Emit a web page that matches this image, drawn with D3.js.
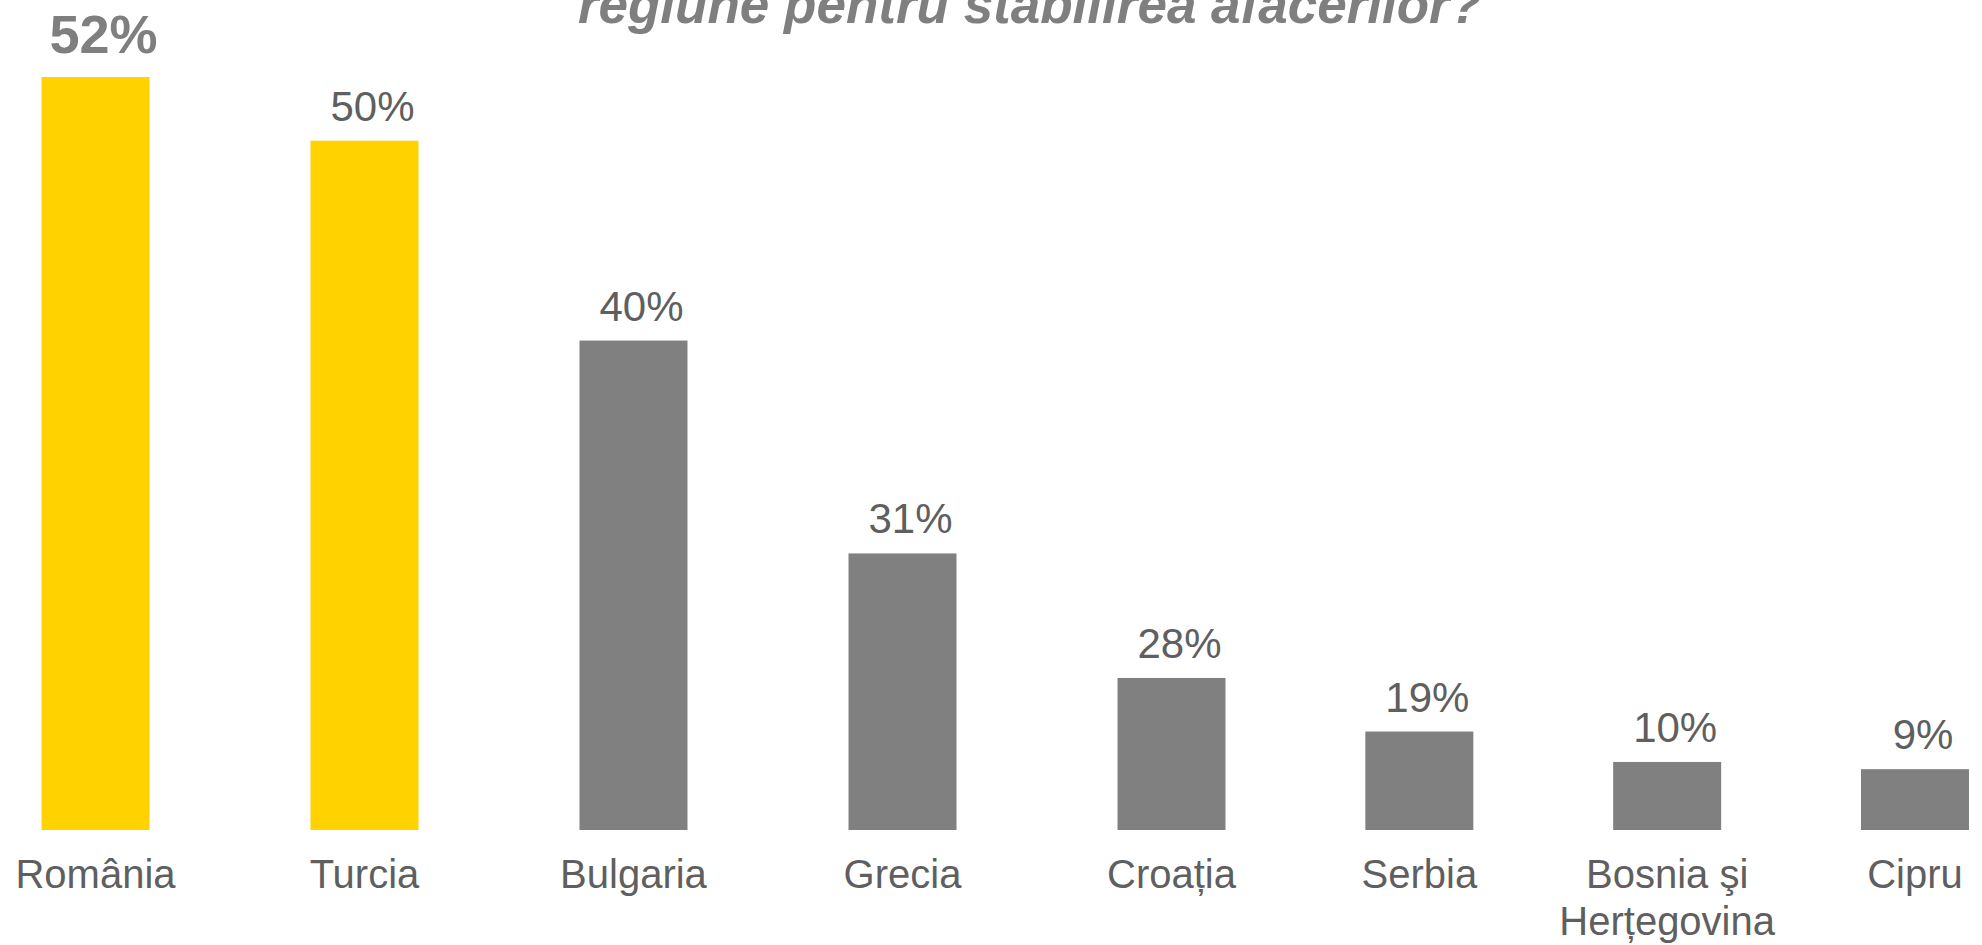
<!DOCTYPE html>
<html>
<head>
<meta charset="utf-8">
<script src="https://cdnjs.cloudflare.com/ajax/libs/d3/7.8.5/d3.min.js"></script>
<style>
  html, body { margin: 0; padding: 0; background: #fff; overflow: hidden; }
  text { font-family: "Liberation Sans", Arial, sans-serif; }
</style>
</head>
<body>
<div class="chart"></div>
<script>
const titleLine = "regiune pentru stabilirea afacerilor?";
const countries = ["România", "Turcia", "Bulgaria", "Grecia", "Croația", "Serbia", "Bosnia şi\nHerțegovina", "Cipru"];
const percentLabels = [52, 50, 40, 31, 28, 19, 10, 9];
// bar lengths as drawn in the picture (the original is not to scale)
const barValues = [52, 47.6, 33.8, 19.1, 10.5, 6.8, 4.7, 4.2];
const highlighted = [true, true, false, false, false, false, false, false];

class BarDisplay {
  constructor() {
    this.data = countries.map(function (c, i) {
      return { idx: i, name: c, label: percentLabels[i], size: barValues[i], hi: highlighted[i] };
    });
  }

  createChart() {
    const width = 1982;
    const height = 945;
    const baseY = 830;
    const barWidth = 108;

    // bar centres; the original spacing tightens towards the right
    const xScale = d3.scaleLinear().domain([0, 4, 7]).range([95.5, 1171.5, 1915]);
    const yScale = d3.scaleLinear().domain([0, 52]).range([baseY, 77]);

    const svg = d3
      .select(".chart")
      .append("svg")
      .attr("width", width)
      .attr("height", height);

    svg.append("text")
      .attr("x", 1030)
      .attr("y", 23)
      .attr("text-anchor", "middle")
      .style("font-size", "53px")
      .style("font-weight", "bold")
      .style("font-style", "italic")
      .style("fill", "#7f7f7f")
      .text(titleLine);

    svg.selectAll("rect")
      .data(this.data)
      .enter()
      .append("rect")
      .attr("x", function (d) { return xScale(d.idx) - barWidth / 2; })
      .attr("y", function (d) { return yScale(d.size); })
      .attr("width", barWidth)
      .attr("height", function (d) { return baseY - yScale(d.size); })
      .style("fill", function (d) { return d.hi ? "#ffd200" : "#808080"; });

    svg.selectAll("text.val")
      .data(this.data)
      .enter()
      .append("text")
      .attr("class", "val")
      .attr("x", function (d) { return xScale(d.idx) + 8; })
      .attr("y", function (d, i) { return yScale(d.size) - (i === 0 ? 24 : 20); })
      .attr("text-anchor", "middle")
      .style("font-size", function (d, i) { return i === 0 ? "54px" : "42px"; })
      .style("font-weight", function (d, i) { return i === 0 ? "bold" : "normal"; })
      .style("fill", function (d, i) { return i === 0 ? "#7f7f7f" : "#5f5f5f"; })
      .text(function (d) { return d.label + "%"; });

    const cat = svg.selectAll("text.cat")
      .data(this.data)
      .enter()
      .append("text")
      .attr("class", "cat")
      .attr("y", 888)
      .attr("text-anchor", "middle")
      .style("font-size", "40px")
      .style("fill", "#5f5f5f");

    cat.selectAll("tspan")
      .data(function (d) {
        return d.name.split("\n").map(function (t) { return { t: t, x: xScale(d.idx) }; });
      })
      .enter()
      .append("tspan")
      .attr("x", function (d) { return d.x; })
      .attr("dy", function (d, i) { return i === 0 ? 0 : 47; })
      .text(function (d) { return d.t; });
  }
}

new BarDisplay().createChart();
</script>
</body>
</html>
